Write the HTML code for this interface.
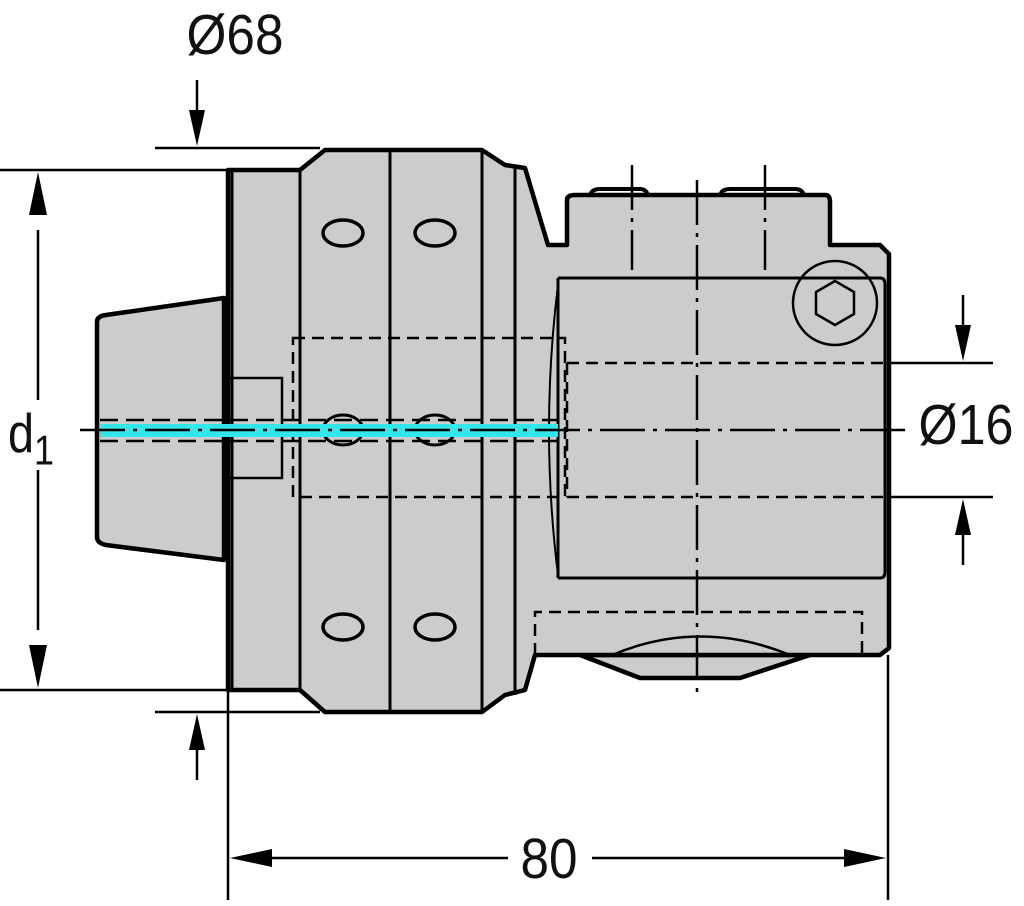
<!DOCTYPE html>
<html><head><meta charset="utf-8"><style>
html,body{margin:0;padding:0;background:#fff}
svg{display:block}
text{font-family:"Liberation Sans",sans-serif;fill:#111}
</style></head><body>
<svg width="1024" height="906" viewBox="0 0 1024 906" xmlns="http://www.w3.org/2000/svg">
<g stroke="#000" fill="none">
<line x1="0" y1="170" x2="230" y2="170" stroke-width="2.5"/>
<line x1="0" y1="690" x2="230" y2="690" stroke-width="2.5"/>
<line x1="155" y1="148" x2="320" y2="148" stroke-width="2.5"/>
<line x1="155" y1="712" x2="320" y2="712" stroke-width="2.5"/>
<line x1="228" y1="690" x2="228" y2="900" stroke-width="2.5"/>
<line x1="888" y1="655" x2="888" y2="900" stroke-width="2.5"/>
<line x1="885" y1="363" x2="993" y2="363" stroke-width="2.5"/>
<line x1="885" y1="497" x2="993" y2="497" stroke-width="2.5"/>
</g>
<g fill="#000">
<line x1="38" y1="230" x2="38" y2="400" stroke="#000" stroke-width="2.5"/>
<line x1="38" y1="470" x2="38" y2="630" stroke="#000" stroke-width="2.5"/>
<path d="M38,172 L29,215 L47,215z"/><path d="M38,688 L29,645 L47,645z"/>
<line x1="197" y1="80" x2="197" y2="120" stroke="#000" stroke-width="2.5"/>
<path d="M197,146 L189,110 L205,110z"/>
<line x1="197" y1="745" x2="197" y2="780" stroke="#000" stroke-width="2.5"/>
<path d="M197,714 L189,750 L205,750z"/>
<line x1="963" y1="295" x2="963" y2="330" stroke="#000" stroke-width="2.5"/>
<path d="M963,361 L955,325 L971,325z"/>
<line x1="963" y1="530" x2="963" y2="565" stroke="#000" stroke-width="2.5"/>
<path d="M963,499 L955,535 L971,535z"/>
<line x1="270" y1="858" x2="508" y2="858" stroke="#000" stroke-width="2.5"/>
<line x1="592" y1="858" x2="850" y2="858" stroke="#000" stroke-width="2.5"/>
<path d="M230,858 L272,849 L272,867z"/><path d="M886,858 L844,849 L844,867z"/>
</g>
<g stroke="#000" stroke-width="4.5" fill="#cccccc" stroke-linejoin="round">
<path d="M580,655 L640,678 L740,678 L810,655 Z"/>
<path d="M97,322 Q97,316 106,315 L224,298 L224,560 L106,545 Q97,543 97,537 Z"/>
<path d="M228,170 L300,170 L325,150 L482,150 L505,165 L525,168 L548,245 L567,245 L567,200 Q567,195 575,195 L825,195 Q830,195 830,202 L830,245 L880,245 L889,254 L889,648 L880,655 L535,655 L525,690 L505,695 L482,712 L325,712 L300,690 L228,690 Z"/>
</g>
<g stroke="#000" stroke-width="3" fill="none">
<line x1="300" y1="170" x2="300" y2="690"/>
<line x1="390" y1="150" x2="390" y2="712"/>
<line x1="482" y1="150" x2="482" y2="712"/>
<line x1="515" y1="165" x2="515" y2="695"/>
<line x1="232" y1="172" x2="232" y2="688"/>
<path d="M590,195 Q592,189 600,189 L640,189 Q646,189 648,195" stroke-width="4"/>
<path d="M720,195 Q722,189 730,189 L795,189 Q802,189 804,195" stroke-width="4"/>
<ellipse cx="343" cy="233" rx="20" ry="13" stroke-width="3.5"/><ellipse cx="435" cy="233" rx="20" ry="13" stroke-width="3.5"/>
<ellipse cx="343" cy="627" rx="20" ry="13" stroke-width="3.5"/><ellipse cx="435" cy="627" rx="20" ry="13" stroke-width="3.5"/>
<ellipse cx="343" cy="430" rx="20" ry="15"/><ellipse cx="435" cy="430" rx="20" ry="15"/>
</g>
<g stroke="#000" stroke-width="2.5" fill="none">
<rect x="228" y="378" width="54" height="100"/>
<path d="M558,278 L880,278 Q885,278 885,284 L885,572 Q885,578 880,578 L558,578" stroke-width="3"/>
<line x1="558" y1="278" x2="558" y2="578" stroke-width="3"/>
<path d="M558,285 Q540,430 558,575" stroke-width="2"/>
<circle cx="835" cy="303" r="42"/>
<path d="M835,281 L854,292 L854,314 L835,325 L816,314 L816,292 Z"/>
<path d="M612,655 Q700,618 790,655"/>
</g>
<g stroke="#000" stroke-width="2.5" fill="none" stroke-dasharray="12,7">
<rect x="293" y="338" width="272" height="159"/>
<line x1="567" y1="363" x2="885" y2="363"/>
<line x1="567" y1="497" x2="885" y2="497"/>
<line x1="567" y1="363" x2="567" y2="497"/>
<path d="M535,655 L535,612 L862,612 L862,655"/>
</g>
<rect x="100" y="424" width="458" height="13" fill="#33e6ea"/>
<g stroke="#000" stroke-width="2.5" stroke-dasharray="18,8">
<line x1="100" y1="420" x2="558" y2="420"/>
<line x1="100" y1="441" x2="558" y2="441"/>
</g>
<g stroke="#000" stroke-width="2.5" fill="none" stroke-dasharray="45,8,4,8">
<line x1="80" y1="430" x2="905" y2="430"/>
<line x1="697" y1="180" x2="697" y2="700"/>
<line x1="632" y1="165" x2="632" y2="270"/>
<line x1="765" y1="165" x2="765" y2="270"/>
</g>
<text transform="translate(235,54) scale(0.95,1.05)" font-size="54" text-anchor="middle">Ø68</text>
<text transform="translate(8,452) scale(0.9,1.05)" font-size="52">d<tspan font-size="40" dy="12">1</tspan></text>
<text transform="translate(966,444) scale(0.93,1.05)" font-size="54" text-anchor="middle">Ø16</text>
<text transform="translate(549,878) scale(0.95,1.05)" font-size="54" text-anchor="middle">80</text>
</svg>
</body></html>
